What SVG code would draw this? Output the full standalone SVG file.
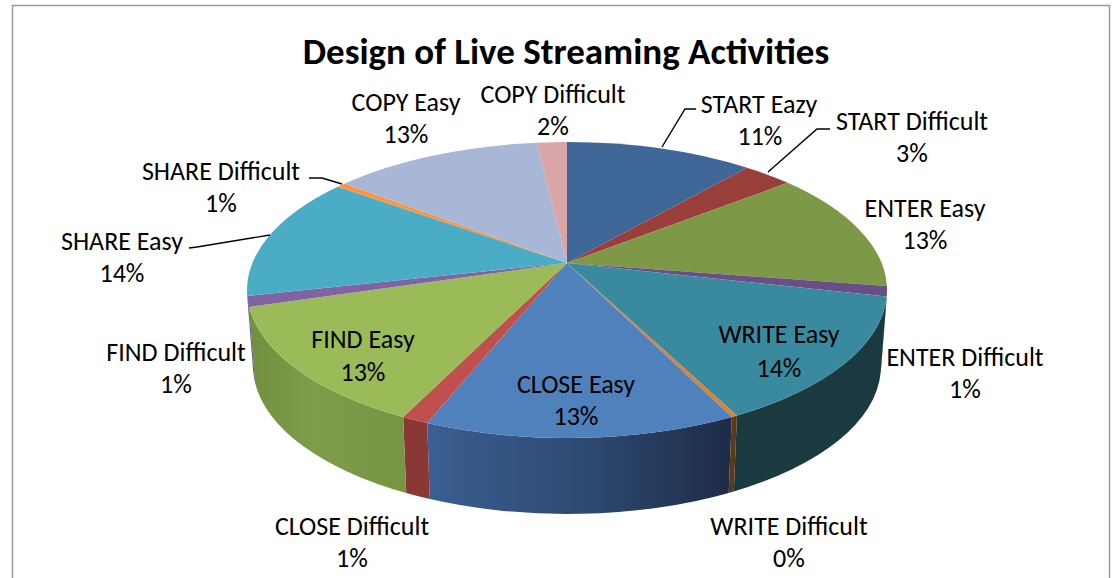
<svg xmlns="http://www.w3.org/2000/svg" width="1115" height="578" viewBox="0 0 1115 578">
<style>
.lbl{font-family:Carlito,Lato,'Liberation Sans',sans-serif;font-size:26px;fill:#000;text-anchor:middle}
.ttl{font-family:Carlito,Lato,'Liberation Sans',sans-serif;font-size:37px;font-weight:bold;fill:#000;text-anchor:middle}
.lead{fill:none;stroke:#000;stroke-width:1.4}
</style>
<defs>
<linearGradient id="gClose" gradientUnits="userSpaceOnUse" x1="428" y1="0" x2="732" y2="0">
<stop offset="0" stop-color="#3A5F90"/><stop offset="0.5" stop-color="#2E4A73"/><stop offset="1" stop-color="#1E2C46"/>
</linearGradient>
<linearGradient id="gFind" gradientUnits="userSpaceOnUse" x1="248" y1="0" x2="405" y2="0">
<stop offset="0" stop-color="#728F3F"/><stop offset="0.4" stop-color="#7E9C49"/><stop offset="1" stop-color="#789543"/>
</linearGradient>
<linearGradient id="gWrite" gradientUnits="userSpaceOnUse" x1="730" y1="0" x2="887" y2="0">
<stop offset="0" stop-color="#1B3A41"/><stop offset="1" stop-color="#1A3A40"/>
</linearGradient>
</defs>
<rect x="12.5" y="5.5" width="1097" height="580" fill="#fff" stroke="#9a9a9a" stroke-width="1.5"/>
<text class="ttl" x="566" y="64">Design of Live Streaming Activities</text>

<g id="sides">
<path d="M887,290 A320,148 0 0 1 886.7,296.5 L880.7,372.5 A314,148 0 0 0 881,366 Z" fill="#4A3760"/>
<path d="M886.7,296.5 A320,148 0 0 1 736.9,415.5 L733.8,491.5 A314,148 0 0 0 880.7,372.5 Z" fill="url(#gWrite)"/>
<path d="M736.9,415.5 A320,148 0 0 1 731.8,416.9 L728.7,492.9 A314,148 0 0 0 733.8,491.5 Z" fill="#5C3A18"/>
<path d="M731.8,416.9 A320,148 0 0 1 427.2,423.1 L429.8,499.1 A314,148 0 0 0 728.7,492.9 Z" fill="url(#gClose)"/>
<path d="M427.2,423.1 A320,148 0 0 1 403.2,417.1 L406.2,493.1 A314,148 0 0 0 429.8,499.1 Z" fill="#8A3836"/>
<path d="M403.2,417.1 A320,148 0 0 1 249.1,307 L255.1,383 A314,148 0 0 0 406.2,493.1 Z" fill="url(#gFind)"/>
<path d="M249.1,307 A320,148 0 0 1 247.3,295.9 L253.3,371.9 A314,148 0 0 0 255.1,383 Z" fill="#5F4A7A"/>
<path d="M247.3,295.9 A320,148 0 0 1 247,290 L253,366 A314,148 0 0 0 253.3,371.9 Z" fill="#3A8499"/>
</g>

<g id="start-eazy"><path d="M567,263 L567,142 A320,148 0 0 1 747.1,167.7 Z" fill="#3E6797"/></g>
<g id="start-difficult"><path d="M567,263 L747.1,167.7 A320,148 0 0 1 787.7,182.8 Z" fill="#9A3E3B"/></g>
<g id="enter-easy"><path d="M567,263 L787.7,182.8 A320,148 0 0 1 886.9,286.1 Z" fill="#7D9847"/></g>
<g id="enter-difficult"><path d="M567,263 L886.9,286.1 A320,148 0 0 1 886.7,296.5 Z" fill="#6A4F86"/></g>
<g id="write-easy"><path d="M567,263 L886.7,296.5 A320,148 0 0 1 736.9,415.5 Z" fill="#3A8A9F"/></g>
<g id="write-difficult"><path d="M567,263 L736.9,415.5 A320,148 0 0 1 731.8,416.9 Z" fill="#D9833A"/></g>
<g id="close-easy"><path d="M567,263 L731.8,416.9 A320,148 0 0 1 427.2,423.1 Z" fill="#4F81BD"/></g>
<g id="close-difficult"><path d="M567,263 L427.2,423.1 A320,148 0 0 1 403.2,417.1 Z" fill="#C0504D"/></g>
<g id="find-easy"><path d="M567,263 L403.2,417.1 A320,148 0 0 1 249.1,307 Z" fill="#9BBB59"/></g>
<g id="find-difficult"><path d="M567,263 L249.1,307 A320,148 0 0 1 247.3,295.9 Z" fill="#8064A2"/></g>
<g id="share-easy"><path d="M567,263 L247.3,295.9 A320,148 0 0 1 337.6,186.8 Z" fill="#4BACC6"/></g>
<g id="share-difficult"><path d="M567,263 L337.6,186.8 A320,148 0 0 1 344.7,183.5 Z" fill="#F79646"/></g>
<g id="copy-easy"><path d="M567,263 L344.7,183.5 A320,148 0 0 1 536.9,142.7 Z" fill="#A9B7D6"/></g>
<g id="copy-difficult"><path d="M567,263 L536.9,142.7 A320,148 0 0 1 567,142 Z" fill="#D8A6A6"/></g>

<g id="connectors">
<path class="lead" d="M696,109 L685,109 L662,147"/>
<path class="lead" d="M830,129 L817,129 L768,172"/>
<path class="lead" d="M309,178 L322,178 L342,184"/>
<path class="lead" d="M189,248 L197,247 L270,235"/>
</g>

<g id="labels">
<text class="lbl" x="406" y="111">COPY Easy</text><text class="lbl" x="406" y="143">13%</text>
<text class="lbl" x="553" y="103">COPY Difficult</text><text class="lbl" x="553" y="135">2%</text>
<text class="lbl" x="759" y="113">START Eazy</text><text class="lbl" x="760" y="145">11%</text>
<text class="lbl" x="912" y="130">START Difficult</text><text class="lbl" x="912" y="162">3%</text>
<text class="lbl" x="221" y="180">SHARE Difficult</text><text class="lbl" x="221" y="212">1%</text>
<text class="lbl" x="122" y="250">SHARE Easy</text><text class="lbl" x="122" y="282">14%</text>
<text class="lbl" x="925" y="217">ENTER Easy</text><text class="lbl" x="925" y="249">13%</text>
<text class="lbl" x="176" y="361">FIND Difficult</text><text class="lbl" x="176" y="393">1%</text>
<text class="lbl" x="363" y="348">FIND Easy</text><text class="lbl" x="363" y="381">13%</text>
<text class="lbl" x="576" y="393">CLOSE Easy</text><text class="lbl" x="576" y="425">13%</text>
<text class="lbl" x="779" y="343">WRITE Easy</text><text class="lbl" x="779" y="377">14%</text>
<text class="lbl" x="965" y="366">ENTER Difficult</text><text class="lbl" x="965" y="398">1%</text>
<text class="lbl" x="352" y="535">CLOSE Difficult</text><text class="lbl" x="352" y="567">1%</text>
<text class="lbl" x="789" y="535">WRITE Difficult</text><text class="lbl" x="789" y="567">0%</text>
</g>
</svg>
